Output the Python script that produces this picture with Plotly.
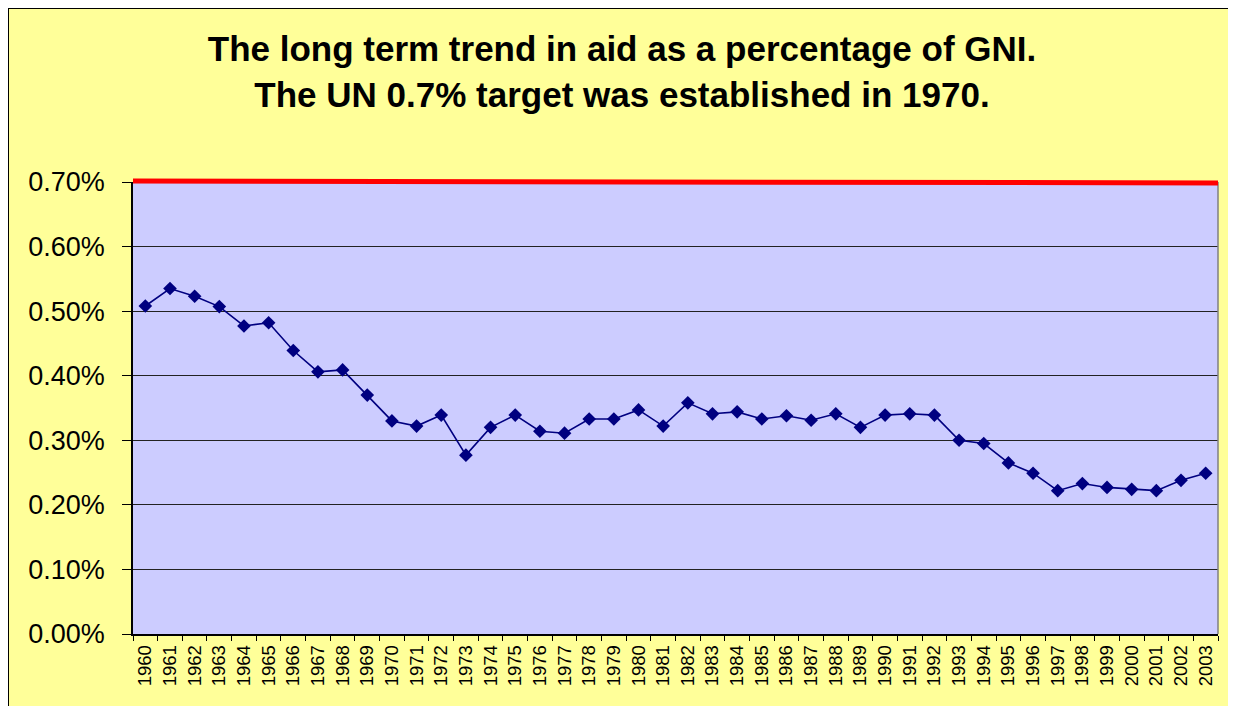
import plotly.graph_objects as go

years = [str(y) for y in range(1960, 2004)]
aid_pct_gni = [
    0.508, 0.535, 0.523, 0.507, 0.477, 0.482, 0.439, 0.406, 0.409, 0.370,
    0.330, 0.322, 0.339, 0.277, 0.320, 0.339, 0.314, 0.311, 0.333, 0.333,
    0.347, 0.322, 0.358, 0.341, 0.344, 0.333, 0.338, 0.331, 0.341, 0.320,
    0.339, 0.341, 0.339, 0.300, 0.295, 0.265, 0.249, 0.222, 0.233, 0.227,
    0.224, 0.222, 0.238, 0.249,
]
un_target = 0.70
y_max = 0.70
y_ticks = [0.0, 0.1, 0.2, 0.3, 0.4, 0.5, 0.6, 0.7]
y_ticklabels = ["%.2f%%" % v for v in y_ticks]

title_text = ("<b>The long term trend in aid as a percentage of GNI.</b><br>"
              "<b>The UN 0.7% target was established in 1970.</b>")

# page has an 8px body margin; figure coordinates are page - 8
W, H = 1228, 698
L, R, T, B = 125, 18, 174, 72
pw, ph = W - L - R, H - T - B

def px_x(x):
    return (x - L) / pw

def px_y(y):
    return (H - B - y) / ph

FONT = "Arial, Liberation Sans, sans-serif"

fig = go.Figure()
fig.add_trace(go.Scatter(
    x=years, y=aid_pct_gni, mode="lines+markers",
    line=dict(color="#000080", width=1.6),
    marker=dict(symbol="diamond", size=10.5, color="#000080"),
    showlegend=False, hoverinfo="x+y",
))

shapes = [
    # chart frame
    dict(type="rect", xref="paper", yref="paper", x0=px_x(0), x1=px_x(1226),
         y0=px_y(760), y1=px_y(0), line=dict(color="black", width=2), layer="above"),
    # plot area right border
    dict(type="line", xref="paper", yref="paper", x0=1, x1=1, y0=0, y1=1,
         line=dict(color="#808080", width=1.5), layer="above"),
    # UN target line (paper-referenced so it is not clipped at the top edge)
    dict(type="line", xref="paper", yref="paper", x0=0, x1=1,
         y0=un_target / y_max + 0.002, y1=un_target / y_max - 0.002,
         line=dict(color="#FF0000", width=5), layer="above"),
]

fig.update_layout(
    width=W, height=H,
    margin=dict(l=L, r=R, t=T, b=B, pad=0),
    paper_bgcolor="#FFFF99",
    plot_bgcolor="#CCCCFF",
    font=dict(family=FONT, color="black"),
    title=dict(text=title_text, font=dict(family=FONT, size=35, color="black"),
               x=614 / W, xref="container", xanchor="center",
               y=1 - 53 / H, yref="container", yanchor="middle"),
    shapes=shapes,
    xaxis=dict(
        type="category", showgrid=False, showline=True, linecolor="black", linewidth=1.5,
        ticks="outside", tickson="boundaries", ticklen=5, tickcolor="black", tickwidth=1,
        tickangle=-90, tickfont=dict(size=18.5, family=FONT), ticklabelstandoff=2,
        range=[-0.5, len(years) - 0.5], fixedrange=True,
    ),
    yaxis=dict(
        range=[0, y_max], tickvals=y_ticks, ticktext=y_ticklabels,
        showgrid=True, gridcolor="#222222", gridwidth=1, zeroline=False,
        showline=True, linecolor="black", linewidth=1.5,
        ticks="outside", ticklen=9, tickcolor="black", tickwidth=1,
        tickfont=dict(size=27, family=FONT), ticklabelstandoff=12, fixedrange=True,
    ),
)

fig.write_html("out.html")
